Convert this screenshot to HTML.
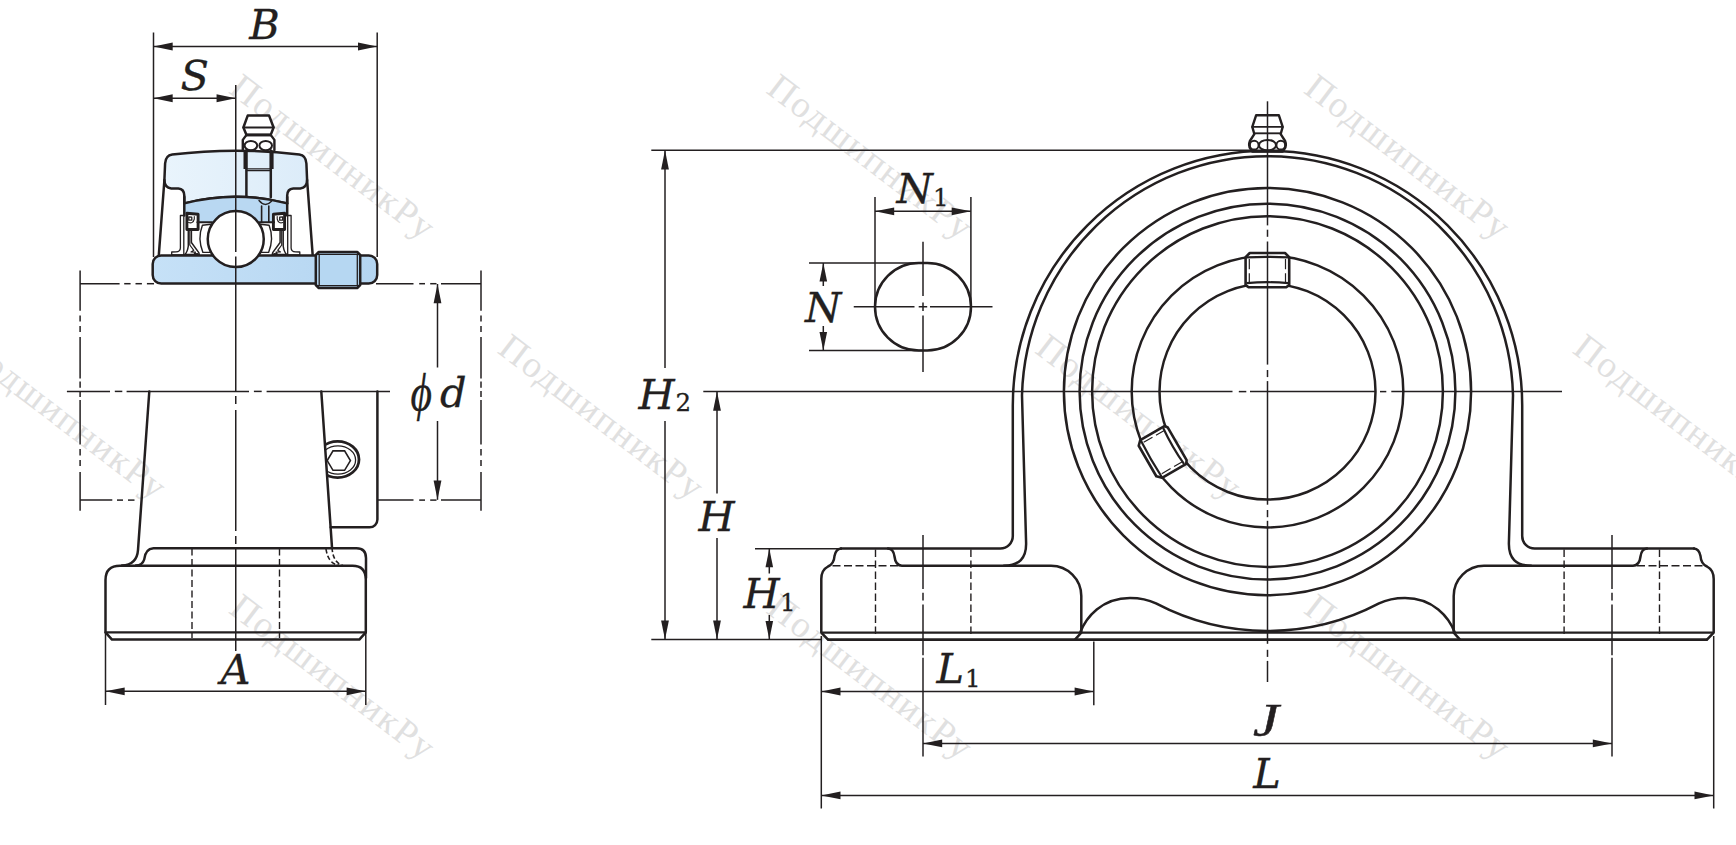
<!DOCTYPE html>
<html lang="ru"><head><meta charset="utf-8"><title>Pillow block bearing unit dimensions</title>
<style>html,body{margin:0;padding:0;background:#fff;overflow:hidden}svg{display:block}</style></head>
<body>
<svg width="1736" height="845" viewBox="0 0 1736 845">
<rect width="1736" height="845" fill="#fff"/>
<g id="wm">
<text transform="translate(227.5,92) rotate(37.3)" font-family='"Liberation Serif", serif' font-size="37" letter-spacing="1.8" fill="#e0e0e0">ПодшипникРу</text>
<text transform="translate(765,92) rotate(37.3)" font-family='"Liberation Serif", serif' font-size="37" letter-spacing="1.8" fill="#e0e0e0">ПодшипникРу</text>
<text transform="translate(1302.5,92) rotate(37.3)" font-family='"Liberation Serif", serif' font-size="37" letter-spacing="1.8" fill="#e0e0e0">ПодшипникРу</text>
<text transform="translate(-41.3,352) rotate(37.3)" font-family='"Liberation Serif", serif' font-size="37" letter-spacing="1.8" fill="#e0e0e0">ПодшипникРу</text>
<text transform="translate(496.2,352) rotate(37.3)" font-family='"Liberation Serif", serif' font-size="37" letter-spacing="1.8" fill="#e0e0e0">ПодшипникРу</text>
<text transform="translate(1033.7,352) rotate(37.3)" font-family='"Liberation Serif", serif' font-size="37" letter-spacing="1.8" fill="#e0e0e0">ПодшипникРу</text>
<text transform="translate(1571.2,352) rotate(37.3)" font-family='"Liberation Serif", serif' font-size="37" letter-spacing="1.8" fill="#e0e0e0">ПодшипникРу</text>
<text transform="translate(227.5,612) rotate(37.3)" font-family='"Liberation Serif", serif' font-size="37" letter-spacing="1.8" fill="#e0e0e0">ПодшипникРу</text>
<text transform="translate(765,612) rotate(37.3)" font-family='"Liberation Serif", serif' font-size="37" letter-spacing="1.8" fill="#e0e0e0">ПодшипникРу</text>
<text transform="translate(1302.5,612) rotate(37.3)" font-family='"Liberation Serif", serif' font-size="37" letter-spacing="1.8" fill="#e0e0e0">ПодшипникРу</text>
</g>
<g id="leftview">
<line x1="153.5" y1="32.5" x2="153.5" y2="257" stroke="#231f20" stroke-width="1.5"/>
<line x1="377.2" y1="32.5" x2="377.2" y2="257" stroke="#231f20" stroke-width="1.5"/>
<line x1="153.5" y1="46.5" x2="377.2" y2="46.5" stroke="#231f20" stroke-width="1.5"/>
<polygon points="153.50,46.50 172.70,42.60 172.70,50.40" fill="#231f20"/>
<polygon points="377.20,46.50 358.00,50.40 358.00,42.60" fill="#231f20"/>
<line x1="153.5" y1="98.25" x2="235.75" y2="98.25" stroke="#231f20" stroke-width="1.5"/>
<polygon points="153.50,98.25 172.70,94.35 172.70,102.15" fill="#231f20"/>
<polygon points="235.75,98.25 216.55,102.15 216.55,94.35" fill="#231f20"/>
<defs><linearGradient id="g1" x1="0" x2="1" y1="0" y2="0"><stop offset="0" stop-color="#e9f4fc"/><stop offset="1" stop-color="#dcecf9"/></linearGradient><linearGradient id="g2" x1="0" x2="1" y1="0" y2="0"><stop offset="0" stop-color="#c6e1f7"/><stop offset="1" stop-color="#b4d5f1"/></linearGradient></defs>
<path d="M172.2,154.6 A520,520 0 0 1 299.3,154.6 Q305.9,155.6 306.4,163.5 L307.1,180 Q306.9,187.8 300.3,188.4 L293.2,188.4 Q287.3,188.8 287.2,195.5 L287.2,203.4 A206,206 0 0 0 184.3,203.4 L184.3,195.5 Q184.2,188.8 178.3,188.4 L171.2,188.4 Q164.6,187.8 164.4,180 L165.1,163.5 Q165.6,155.6 172.2,154.6 Z" stroke="#231f20" stroke-width="2.5" fill="url(#g1)" stroke-linejoin="round" stroke-linecap="round" />
<path d="M164.4,180 L158.8,255.4" stroke="#231f20" stroke-width="2.5" fill="none" stroke-linejoin="round" stroke-linecap="round" />
<path d="M307.1,180 L312.7,255.4" stroke="#231f20" stroke-width="2.5" fill="none" stroke-linejoin="round" stroke-linecap="round" />
<path d="M184.3,203.4 A206,206 0 0 1 287.2,203.4 L287.2,214 L273.1,214 L273.1,222 L198.4,222 L198.4,214 L184.3,214 Z" fill="#b9d8f2" stroke="none"/>
<path d="M184.3,203.4 A206,206 0 0 1 287.2,203.4" stroke="#231f20" stroke-width="2.5" fill="none" stroke-linejoin="round" stroke-linecap="round" />
<path d="M184.3,197 L184.3,215.5 M287.2,197 L287.2,215.5" stroke="#231f20" stroke-width="2.5" fill="none" stroke-linejoin="round" stroke-linecap="round" />
<path d="M261.6,206 L261.6,222 M268.8,206 L268.8,222" stroke="#231f20" stroke-width="1.6" fill="none" stroke-linejoin="round" stroke-linecap="round" />
<path d="M259,200.5 Q265.2,208 271.5,201.2" stroke="#231f20" stroke-width="1.4" fill="none" stroke-linejoin="round" stroke-linecap="round" />
<path d="M183.8,215.5 L180.4,215.5 L180.4,248 Q180.2,251.7 176,251.9 L171.7,252 L171.7,255 L183.8,255 Z" stroke="#231f20" stroke-width="1.3" fill="#fff" stroke-linejoin="round" stroke-linecap="round" />
<path d="M287.7,215.5 L291.1,215.5 L291.1,248 Q291.3,251.7 295.5,251.9 L299.8,252 L299.8,255 L287.7,255 Z" stroke="#231f20" stroke-width="1.3" fill="#fff" stroke-linejoin="round" stroke-linecap="round" />
<path d="M188.3,229 L188.3,246 Q187.5,252 184.8,254.6 L199.3,254.6 L198.8,252.6 L191.4,242.5 L191.4,229 Z" stroke="#231f20" stroke-width="1.5" fill="#fff" stroke-linejoin="round" stroke-linecap="round" />
<path d="M189.8,231 L189.8,245 L193.8,250.3 L191,252 L195.5,252.2 L194.3,253.8 L197.5,253.6" stroke="#231f20" stroke-width="1.2" fill="none" stroke-linejoin="round" stroke-linecap="round" />
<path d="M186.9,213.2 L198.1,214.3 L198.1,229.5 L186.9,229.5 Z" stroke="#231f20" stroke-width="2.9" fill="#fff" stroke-linejoin="round" stroke-linecap="round" />
<path d="M188.8,217 L191.8,217.2 L191.8,220.2 L188.8,220.2 Z" stroke="#231f20" stroke-width="1.3" fill="none" stroke-linejoin="round" stroke-linecap="round" />
<path d="M188.6,222.5 Q193,224 194.3,219 L194.3,216.5" stroke="#231f20" stroke-width="1.1" fill="none" stroke-linejoin="round" stroke-linecap="round" />
<path d="M283.2,229 L283.2,246 Q284.0,252 286.7,254.6 L272.2,254.6 L272.7,252.6 L280.1,242.5 L280.1,229 Z" stroke="#231f20" stroke-width="1.5" fill="#fff" stroke-linejoin="round" stroke-linecap="round" />
<path d="M281.7,231 L281.7,245 L277.7,250.3 L280.5,252 L276.0,252.2 L277.2,253.8 L274.0,253.6" stroke="#231f20" stroke-width="1.2" fill="none" stroke-linejoin="round" stroke-linecap="round" />
<path d="M284.6,213.2 L273.4,214.3 L273.4,229.5 L284.6,229.5 Z" stroke="#231f20" stroke-width="2.9" fill="#fff" stroke-linejoin="round" stroke-linecap="round" />
<path d="M282.7,217 L279.7,217.2 L279.7,220.2 L282.7,220.2 Z" stroke="#231f20" stroke-width="1.3" fill="none" stroke-linejoin="round" stroke-linecap="round" />
<path d="M282.9,222.5 Q278.5,224 277.2,219 L277.2,216.5" stroke="#231f20" stroke-width="1.1" fill="none" stroke-linejoin="round" stroke-linecap="round" />
<path d="M202.4,225.3 L211,224.3 L211,252.4 L202.9,252.4 Q197.3,238.5 202.4,225.3 Z" stroke="#231f20" stroke-width="1.4" fill="#fff" stroke-linejoin="round" stroke-linecap="round" />
<path d="M269.1,225.3 L260.5,224.3 L260.5,252.4 L268.6,252.4 Q274.2,238.5 269.1,225.3 Z" stroke="#231f20" stroke-width="1.4" fill="#fff" stroke-linejoin="round" stroke-linecap="round" />
<path d="M197.4,222.3 L212,222.3 M274.1,222.3 L259.5,222.3" stroke="#231f20" stroke-width="2.0" fill="none" stroke-linejoin="round" stroke-linecap="round" />
<rect x="152.7" y="255.5" width="224.5" height="28.0" rx="8.5" ry="8.5" fill="url(#g2)" stroke="#231f20" stroke-width="2.5"/>
<circle cx="235.75" cy="239.1" r="28" fill="#fff" stroke="#231f20" stroke-width="2.5"/>
<path d="M318.8,252 L357.2,252 L360.2,255 L360.2,285 L357.2,288 L318.8,288 L315.8,285 L315.8,255 Z" stroke="#231f20" stroke-width="2.5" fill="#b6d7f2" stroke-linejoin="round" stroke-linecap="round" />
<path d="M319.2,254.5 L319.2,285.5 M357.3,254.5 L357.3,285.5" stroke="#231f20" stroke-width="1.3" fill="none" stroke-linejoin="round" stroke-linecap="round" />
<path d="M317,254.3 L359,254.3 M317,285.7 L359,285.7" stroke="#231f20" stroke-width="1.3" fill="none" stroke-linejoin="round" stroke-linecap="round" />
<path d="M247.7,115.6 L269.1,115.6 L273.6,127.5 L270.7,134.9 L246.5,134.9 L243.4,127.5 Z" stroke="#231f20" stroke-width="2.5" fill="#fff" stroke-linejoin="round" stroke-linecap="round" />
<path d="M243.4,127.5 L273.6,127.5" stroke="#231f20" stroke-width="1.8" fill="none" stroke-linejoin="round" stroke-linecap="round" />
<path d="M246.5,134.9 L270.7,134.9" stroke="#231f20" stroke-width="2.6" fill="none" stroke-linejoin="round" stroke-linecap="round" />
<path d="M246.5,134.9 L242.8,139.9 L242.8,150 M270.7,134.9 L274.4,139.9 L274.4,150" stroke="#231f20" stroke-width="2.4" fill="none" stroke-linejoin="round" stroke-linecap="round" />
<ellipse cx="250.9" cy="145.6" rx="6.3" ry="4.7" fill="none" stroke="#231f20" stroke-width="2"/>
<ellipse cx="265.7" cy="145.6" rx="6.3" ry="4.7" fill="none" stroke="#231f20" stroke-width="2"/>
<path d="M245.4,150.3 L245.4,169 M271.7,150.3 L271.7,169" stroke="#231f20" stroke-width="3.8" fill="none" stroke-linejoin="round" stroke-linecap="butt" />
<path d="M246.4,150.5 L246.4,196.6 M270.8,150.5 L270.8,197.3" stroke="#231f20" stroke-width="2.5" fill="none" stroke-linejoin="round" stroke-linecap="round" />
<path d="M246.4,168.9 L270.8,168.9 M246.4,170.7 L270.8,170.7" stroke="#231f20" stroke-width="1.2" fill="none" stroke-linejoin="round" stroke-linecap="round" />
<line x1="235.75" y1="85" x2="235.75" y2="252" stroke="#231f20" stroke-width="1.5"/>
<line x1="235.75" y1="256.5" x2="235.75" y2="391.5" stroke="#231f20" stroke-width="1.5"/>
<line x1="235.75" y1="396" x2="235.75" y2="404" stroke="#231f20" stroke-width="1.5"/>
<line x1="235.75" y1="410" x2="235.75" y2="531" stroke="#231f20" stroke-width="1.5"/>
<line x1="235.75" y1="536" x2="235.75" y2="544" stroke="#231f20" stroke-width="1.5"/>
<line x1="235.75" y1="548" x2="235.75" y2="651" stroke="#231f20" stroke-width="1.5"/>
<line x1="80" y1="283.7" x2="119.6" y2="283.7" stroke="#231f20" stroke-width="1.5"/>
<line x1="124.2" y1="283.7" x2="130.6" y2="283.7" stroke="#231f20" stroke-width="1.5"/>
<line x1="135.5" y1="283.7" x2="141.9" y2="283.7" stroke="#231f20" stroke-width="1.5"/>
<line x1="146.9" y1="283.7" x2="154" y2="283.7" stroke="#231f20" stroke-width="1.5"/>
<line x1="376" y1="283.7" x2="413.5" y2="283.7" stroke="#231f20" stroke-width="1.5"/>
<line x1="419.2" y1="283.7" x2="425" y2="283.7" stroke="#231f20" stroke-width="1.5"/>
<line x1="430.2" y1="283.7" x2="436.5" y2="283.7" stroke="#231f20" stroke-width="1.5"/>
<line x1="441" y1="283.7" x2="481" y2="283.7" stroke="#231f20" stroke-width="1.5"/>
<line x1="80" y1="500.1" x2="112.3" y2="500.1" stroke="#231f20" stroke-width="1.5"/>
<line x1="117" y1="500.1" x2="123" y2="500.1" stroke="#231f20" stroke-width="1.5"/>
<line x1="128" y1="500.1" x2="134.5" y2="500.1" stroke="#231f20" stroke-width="1.5"/>
<line x1="377.5" y1="500.1" x2="413.5" y2="500.1" stroke="#231f20" stroke-width="1.5"/>
<line x1="419.2" y1="500.1" x2="425" y2="500.1" stroke="#231f20" stroke-width="1.5"/>
<line x1="430.2" y1="500.1" x2="436.5" y2="500.1" stroke="#231f20" stroke-width="1.5"/>
<line x1="441" y1="500.1" x2="481" y2="500.1" stroke="#231f20" stroke-width="1.5"/>
<line x1="80.1" y1="270.4" x2="80.1" y2="310.8" stroke="#231f20" stroke-width="1.5"/>
<line x1="80.1" y1="315.4" x2="80.1" y2="321.5" stroke="#231f20" stroke-width="1.5"/>
<line x1="80.1" y1="326" x2="80.1" y2="332" stroke="#231f20" stroke-width="1.5"/>
<line x1="80.1" y1="337" x2="80.1" y2="378.5" stroke="#231f20" stroke-width="1.5"/>
<line x1="80.1" y1="381.5" x2="80.1" y2="387.7" stroke="#231f20" stroke-width="1.5"/>
<line x1="80.1" y1="391" x2="80.1" y2="397" stroke="#231f20" stroke-width="1.5"/>
<line x1="80.1" y1="400" x2="80.1" y2="444.6" stroke="#231f20" stroke-width="1.5"/>
<line x1="80.1" y1="449" x2="80.1" y2="455.4" stroke="#231f20" stroke-width="1.5"/>
<line x1="80.1" y1="460" x2="80.1" y2="466" stroke="#231f20" stroke-width="1.5"/>
<line x1="80.1" y1="472" x2="80.1" y2="510.8" stroke="#231f20" stroke-width="1.5"/>
<line x1="481" y1="270.4" x2="481" y2="310.8" stroke="#231f20" stroke-width="1.5"/>
<line x1="481" y1="315.4" x2="481" y2="321.5" stroke="#231f20" stroke-width="1.5"/>
<line x1="481" y1="326" x2="481" y2="332" stroke="#231f20" stroke-width="1.5"/>
<line x1="481" y1="337" x2="481" y2="378.5" stroke="#231f20" stroke-width="1.5"/>
<line x1="481" y1="381.5" x2="481" y2="387.7" stroke="#231f20" stroke-width="1.5"/>
<line x1="481" y1="391" x2="481" y2="397" stroke="#231f20" stroke-width="1.5"/>
<line x1="481" y1="400" x2="481" y2="444.6" stroke="#231f20" stroke-width="1.5"/>
<line x1="481" y1="449" x2="481" y2="455.4" stroke="#231f20" stroke-width="1.5"/>
<line x1="481" y1="460" x2="481" y2="466" stroke="#231f20" stroke-width="1.5"/>
<line x1="481" y1="472" x2="481" y2="510.8" stroke="#231f20" stroke-width="1.5"/>
<line x1="66.9" y1="391.4" x2="110" y2="391.4" stroke="#231f20" stroke-width="1.5"/>
<line x1="114.8" y1="391.4" x2="122.3" y2="391.4" stroke="#231f20" stroke-width="1.5"/>
<line x1="126.6" y1="391.4" x2="249" y2="391.4" stroke="#231f20" stroke-width="1.5"/>
<line x1="253.9" y1="391.4" x2="261.7" y2="391.4" stroke="#231f20" stroke-width="1.5"/>
<line x1="266.6" y1="391.4" x2="390" y2="391.4" stroke="#231f20" stroke-width="1.5"/>
<line x1="437.5" y1="284" x2="437.5" y2="367.5" stroke="#231f20" stroke-width="1.5"/>
<line x1="437.5" y1="421" x2="437.5" y2="499.8" stroke="#231f20" stroke-width="1.5"/>
<polygon points="437.50,284.00 441.40,303.20 433.60,303.20" fill="#231f20"/>
<polygon points="437.50,499.80 433.60,480.60 441.40,480.60" fill="#231f20"/>
<path d="M149.3,391.5 L138,550 Q137,564.6 122,565.6" stroke="#231f20" stroke-width="2.5" fill="none" stroke-linejoin="round" stroke-linecap="round" />
<path d="M321.3,391.5 L332,547.5" stroke="#231f20" stroke-width="2.5" fill="none" stroke-linejoin="round" stroke-linecap="round" />
<path d="M332,547.5 Q333,563 343,565.5 M326,549 Q328,563.5 339,565.5" stroke="#231f20" stroke-width="1.6" fill="none" stroke-linejoin="round" stroke-linecap="butt" stroke-dasharray="4.5 2.5"/>
<path d="M377.4,391.5 L377.4,519.5 A7.8,7.8 0 0 1 369.6,527.3 L330.7,527.3" stroke="#231f20" stroke-width="2.5" fill="none" stroke-linejoin="round" stroke-linecap="round" />
<clipPath id="cpL"><polygon points="321.5,391 400,391 400,540 331.6,540"/></clipPath>
<g clip-path="url(#cpL)"><ellipse cx="337.6" cy="459.45" rx="21.4" ry="18.15" fill="none" stroke="#231f20" stroke-width="2.8"/><ellipse cx="337.9" cy="460" rx="17.7" ry="14.1" fill="none" stroke="#231f20" stroke-width="1.3"/></g>
<polygon points="350.4,460.6 344.6,470.3 333.0,470.3 327.2,460.6 333.0,450.9 344.6,450.9" fill="none" stroke="#231f20" stroke-width="1.6"/>
<path d="M136,565.6 Q142.5,565.2 144.2,559.5 Q145.2,548.8 153.5,548.2 L356.5,548.2 Q366,548.2 366,558 L366,578" stroke="#231f20" stroke-width="2.5" fill="none" stroke-linejoin="round" stroke-linecap="round" />
<path d="M105.5,632.4 L105.5,580 Q105.5,565.7 120,565.7 L352.5,565.7 Q365.8,565.7 365.8,579.5 L365.8,632.4 L359.3,639.6 L112,639.6 Z" stroke="#231f20" stroke-width="2.5" fill="none" stroke-linejoin="round" stroke-linecap="round" />
<path d="M105.5,632.4 L365.8,632.4" stroke="#231f20" stroke-width="2.3" fill="none" stroke-linejoin="round" stroke-linecap="round" />
<line x1="192" y1="548.5" x2="192" y2="638" stroke="#231f20" stroke-width="1.4" stroke-dasharray="7 3.5"/>
<line x1="279.5" y1="548.5" x2="279.5" y2="638" stroke="#231f20" stroke-width="1.4" stroke-dasharray="7 3.5"/>
<line x1="105.5" y1="633" x2="105.5" y2="705" stroke="#231f20" stroke-width="1.5"/>
<line x1="365.8" y1="633" x2="365.8" y2="705" stroke="#231f20" stroke-width="1.5"/>
<line x1="105.5" y1="691.3" x2="365.8" y2="691.3" stroke="#231f20" stroke-width="1.5"/>
<polygon points="105.50,691.30 124.70,687.40 124.70,695.20" fill="#231f20"/>
<polygon points="365.80,691.30 346.60,695.20 346.60,687.40" fill="#231f20"/>
</g>
<g id="rightview">
<line x1="651.3" y1="150.3" x2="1252" y2="150.3" stroke="#231f20" stroke-width="1.5"/>
<line x1="651.3" y1="639.6" x2="822" y2="639.6" stroke="#231f20" stroke-width="1.5"/>
<line x1="703.3" y1="391.6" x2="1012" y2="391.6" stroke="#231f20" stroke-width="1.5"/>
<line x1="665" y1="150.3" x2="665" y2="368" stroke="#231f20" stroke-width="1.5"/>
<line x1="665" y1="421" x2="665" y2="639.6" stroke="#231f20" stroke-width="1.5"/>
<polygon points="665.00,150.30 668.90,169.50 661.10,169.50" fill="#231f20"/>
<polygon points="665.00,639.60 661.10,620.40 668.90,620.40" fill="#231f20"/>
<line x1="717" y1="391.6" x2="717" y2="493.5" stroke="#231f20" stroke-width="1.5"/>
<line x1="717" y1="538" x2="717" y2="639.6" stroke="#231f20" stroke-width="1.5"/>
<polygon points="717.00,391.60 720.90,410.80 713.10,410.80" fill="#231f20"/>
<polygon points="717.00,639.60 713.10,620.40 720.90,620.40" fill="#231f20"/>
<line x1="755" y1="548.7" x2="842" y2="548.7" stroke="#231f20" stroke-width="1.5"/>
<line x1="769.3" y1="548.7" x2="769.3" y2="573.5" stroke="#231f20" stroke-width="1.5"/>
<line x1="769.3" y1="615" x2="769.3" y2="639.6" stroke="#231f20" stroke-width="1.5"/>
<polygon points="769.30,548.70 773.10,567.20 765.50,567.20" fill="#231f20"/>
<polygon points="769.30,639.60 765.50,621.10 773.10,621.10" fill="#231f20"/>
<path d="M918.75,263 L927.25,263 A43.75,43.75 0 0 1 927.25,350.5 L918.75,350.5 A43.75,43.75 0 0 1 918.75,263 Z" stroke="#231f20" stroke-width="2.5" fill="none" stroke-linejoin="round" stroke-linecap="round" />
<line x1="875" y1="197" x2="875" y2="306.75" stroke="#231f20" stroke-width="1.5"/>
<line x1="970.9" y1="197" x2="970.9" y2="306.75" stroke="#231f20" stroke-width="1.5"/>
<line x1="875" y1="211.3" x2="970.9" y2="211.3" stroke="#231f20" stroke-width="1.5"/>
<polygon points="875.00,211.30 894.20,207.40 894.20,215.20" fill="#231f20"/>
<polygon points="970.90,211.30 951.70,215.20 951.70,207.40" fill="#231f20"/>
<line x1="809" y1="263" x2="923" y2="263" stroke="#231f20" stroke-width="1.5"/>
<line x1="809" y1="350.5" x2="923" y2="350.5" stroke="#231f20" stroke-width="1.5"/>
<line x1="823.3" y1="263" x2="823.3" y2="286" stroke="#231f20" stroke-width="1.5"/>
<line x1="823.3" y1="326" x2="823.3" y2="350.5" stroke="#231f20" stroke-width="1.5"/>
<polygon points="823.30,263.00 827.10,281.50 819.50,281.50" fill="#231f20"/>
<polygon points="823.30,350.50 819.50,332.00 827.10,332.00" fill="#231f20"/>
<line x1="853.75" y1="306.75" x2="914.5" y2="306.75" stroke="#231f20" stroke-width="1.5"/>
<line x1="918.7" y1="306.75" x2="927.2" y2="306.75" stroke="#231f20" stroke-width="1.5"/>
<line x1="930" y1="306.75" x2="992.5" y2="306.75" stroke="#231f20" stroke-width="1.5"/>
<line x1="923" y1="241.75" x2="923" y2="296" stroke="#231f20" stroke-width="1.5"/>
<line x1="923" y1="302.5" x2="923" y2="311" stroke="#231f20" stroke-width="1.5"/>
<line x1="923" y1="315.5" x2="923" y2="372" stroke="#231f20" stroke-width="1.5"/>
<path d="M841,548.6 L1000.3,548.6 A12.5,12.5 0 0 0 1012.8,536 L1012.8,405.45 A254.7,254.7 0 0 1 1522.2,405.45 L1522.2,536 A12.5,12.5 0 0 0 1534.7,548.6 L1694.0,548.6" stroke="#231f20" stroke-width="2.5" fill="none" stroke-linejoin="round" stroke-linecap="round" />
<path d="M1004,565.7 Q1026.6,565.7 1026.1,543 L1021.99,395.16 A245.6,245.6 0 0 1 1513.01,395.16 L1508.9,543 Q1508.4,565.7 1531.0,565.7" stroke="#231f20" stroke-width="2.5" fill="none" stroke-linejoin="round" stroke-linecap="round" />
<circle cx="1267.5" cy="391.6" r="203.6" fill="none" stroke="#231f20" stroke-width="2.5"/>
<circle cx="1267.5" cy="391.6" r="187.9" fill="none" stroke="#231f20" stroke-width="2.5"/>
<circle cx="1267.5" cy="391.6" r="175.4" fill="none" stroke="#231f20" stroke-width="2.5"/>
<circle cx="1267.5" cy="391.6" r="135.8" fill="none" stroke="#231f20" stroke-width="2.5"/>
<circle cx="1267.5" cy="391.6" r="108" fill="none" stroke="#231f20" stroke-width="2.5"/>
<g transform="rotate(0 1267.5 391.6)">
<path d="M1249.8,253.00000000000003 L1285.0,253.00000000000003 L1289.2,257.20000000000005 L1289.2,285.1 L1286.2,287.3 L1248.6,287.3 L1245.6,285.1 L1245.6,257.20000000000005 Z" fill="#fff" stroke="#231f20" stroke-width="2.6" stroke-linejoin="round"/>
<path d="M1246.1,257.40000000000003 Q1267.5,256.20000000000005 1288.7,257.40000000000003" stroke="#231f20" stroke-width="2.2" fill="none"/>
<path d="M1246.6,283.1 Q1267.5,281.3 1288.2,283.1" stroke="#231f20" stroke-width="2.2" fill="none"/>
<path d="M1249.3,259.0 L1249.3,269.20000000000005 M1249.3,273.20000000000005 L1249.3,282.3 M1285.5,259.0 L1285.5,269.20000000000005 M1285.5,273.20000000000005 L1285.5,282.3" stroke="#231f20" stroke-width="1.2" fill="none"/>
</g>
<g transform="rotate(-120 1267.5 391.6)">
<path d="M1249.8,253.00000000000003 L1285.0,253.00000000000003 L1289.2,257.20000000000005 L1289.2,285.1 L1286.2,287.3 L1248.6,287.3 L1245.6,285.1 L1245.6,257.20000000000005 Z" fill="#fff" stroke="#231f20" stroke-width="2.6" stroke-linejoin="round"/>
<path d="M1246.1,257.40000000000003 Q1267.5,256.20000000000005 1288.7,257.40000000000003" stroke="#231f20" stroke-width="2.2" fill="none"/>
<path d="M1246.6,283.1 Q1267.5,281.3 1288.2,283.1" stroke="#231f20" stroke-width="2.2" fill="none"/>
<path d="M1249.3,259.0 L1249.3,269.20000000000005 M1249.3,273.20000000000005 L1249.3,282.3 M1285.5,259.0 L1285.5,269.20000000000005 M1285.5,273.20000000000005 L1285.5,282.3" stroke="#231f20" stroke-width="1.2" fill="none"/>
</g>
<path d="M1080,633 C1086,617 1102,598 1130,598 C1141,598 1148,599.5 1156.0,603.45 A239.4,239.4 0 0 0 1379.0,603.45 C1387.0,599.5 1394.0,598 1405.0,598 C1433.0,598 1449.0,617 1455.0,633" stroke="#231f20" stroke-width="2.5" fill="none" stroke-linejoin="round" stroke-linecap="round" />
<path d="M841,548.6 Q836,549 834.5,556 Q834,564 828,566.5 Q821.3,570 821.3,579 L821.3,632.6 L828,639.6" stroke="#231f20" stroke-width="2.5" fill="none" stroke-linejoin="round" stroke-linecap="round" />
<path d="M888,548.6 Q893.5,549 894.5,556.5 Q895.5,565.7 902,565.7 L1051,565.7 A30.3,30.3 0 0 1 1081.3,596 L1081.3,632.6 L1075,639.6" stroke="#231f20" stroke-width="2.5" fill="none" stroke-linejoin="round" stroke-linecap="round" />
<line x1="832.5" y1="565.7" x2="900" y2="565.7" stroke="#231f20" stroke-width="1.5" stroke-dasharray="8 3.5"/>
<line x1="875.5" y1="549.5" x2="875.5" y2="637" stroke="#231f20" stroke-width="1.4" stroke-dasharray="7.5 3.5"/>
<line x1="970.9" y1="549.5" x2="970.9" y2="637" stroke="#231f20" stroke-width="1.4" stroke-dasharray="7.5 3.5"/>
<line x1="923" y1="535" x2="923" y2="589" stroke="#231f20" stroke-width="1.5"/>
<line x1="923" y1="592.8" x2="923" y2="600.4" stroke="#231f20" stroke-width="1.5"/>
<line x1="923" y1="604.5" x2="923" y2="655.3" stroke="#231f20" stroke-width="1.5"/>
<line x1="923" y1="657.8" x2="923" y2="756.5" stroke="#231f20" stroke-width="1.5"/>
<path d="M1694.0,548.6 Q1699.0,549 1700.5,556 Q1701.0,564 1707.0,566.5 Q1713.7,570 1713.7,579 L1713.7,632.6 L1707.0,639.6" stroke="#231f20" stroke-width="2.5" fill="none" stroke-linejoin="round" stroke-linecap="round" />
<path d="M1647.0,548.6 Q1641.5,549 1640.5,556.5 Q1639.5,565.7 1633.0,565.7 L1484.0,565.7 A30.3,30.3 0 0 0 1453.7,596 L1453.7,632.6 L1460.0,639.6" stroke="#231f20" stroke-width="2.5" fill="none" stroke-linejoin="round" stroke-linecap="round" />
<line x1="1702.5" y1="565.7" x2="1635.0" y2="565.7" stroke="#231f20" stroke-width="1.5" stroke-dasharray="8 3.5"/>
<line x1="1659.5" y1="549.5" x2="1659.5" y2="637" stroke="#231f20" stroke-width="1.4" stroke-dasharray="7.5 3.5"/>
<line x1="1564.1" y1="549.5" x2="1564.1" y2="637" stroke="#231f20" stroke-width="1.4" stroke-dasharray="7.5 3.5"/>
<line x1="1612.0" y1="535" x2="1612.0" y2="589" stroke="#231f20" stroke-width="1.5"/>
<line x1="1612.0" y1="592.8" x2="1612.0" y2="600.4" stroke="#231f20" stroke-width="1.5"/>
<line x1="1612.0" y1="604.5" x2="1612.0" y2="655.3" stroke="#231f20" stroke-width="1.5"/>
<line x1="1612.0" y1="657.8" x2="1612.0" y2="756.5" stroke="#231f20" stroke-width="1.5"/>
<line x1="821.3" y1="632.6" x2="1713.7" y2="632.6" stroke="#231f20" stroke-width="2.4"/>
<line x1="827.5" y1="639.6" x2="1707.5" y2="639.6" stroke="#231f20" stroke-width="2.9"/>
<path d="M1256.1,115.3 L1278.9,115.3 L1282.7,126.9 L1280.7,134 L1254.3,134 L1252.3,126.9 Z" stroke="#231f20" stroke-width="2.4" fill="#fff" stroke-linejoin="round" stroke-linecap="round" />
<path d="M1252.3,126.9 L1282.7,126.9" stroke="#231f20" stroke-width="1.7" fill="none" stroke-linejoin="round" stroke-linecap="round" />
<path d="M1254.3,134 L1280.7,134" stroke="#231f20" stroke-width="2.8" fill="none" stroke-linejoin="round" stroke-linecap="round" />
<path d="M1254.3,134.2 L1249.9,141 Q1247.9,146.5 1251.2,150 L1253.0,151.3 L1282.0,151.3 L1283.8,150 Q1287.1,146.5 1285.1,141 L1280.7,134.2" stroke="#231f20" stroke-width="2.4" fill="#fff" stroke-linejoin="round" stroke-linecap="round" />
<path d="M1252.5,151.2 L1282.5,151.2" stroke="#231f20" stroke-width="3.2" fill="none" stroke-linejoin="round" stroke-linecap="round" />
<ellipse cx="1267.5" cy="145.2" rx="8.5" ry="5.3" fill="none" stroke="#231f20" stroke-width="2"/>
<circle cx="1254.2" cy="145.2" r="4.4" fill="none" stroke="#231f20" stroke-width="2"/>
<circle cx="1280.8" cy="145.2" r="4.4" fill="none" stroke="#231f20" stroke-width="2"/>
<line x1="1267.5" y1="101.3" x2="1267.5" y2="225.4" stroke="#231f20" stroke-width="1.5"/>
<line x1="1267.5" y1="229.7" x2="1267.5" y2="236.8" stroke="#231f20" stroke-width="1.5"/>
<line x1="1267.5" y1="241.5" x2="1267.5" y2="364.6" stroke="#231f20" stroke-width="1.5"/>
<line x1="1267.5" y1="370" x2="1267.5" y2="377.1" stroke="#231f20" stroke-width="1.5"/>
<line x1="1267.5" y1="381.1" x2="1267.5" y2="504.7" stroke="#231f20" stroke-width="1.5"/>
<line x1="1267.5" y1="510" x2="1267.5" y2="517.2" stroke="#231f20" stroke-width="1.5"/>
<line x1="1267.5" y1="520.8" x2="1267.5" y2="643.8" stroke="#231f20" stroke-width="1.5"/>
<line x1="1267.5" y1="649.8" x2="1267.5" y2="656.9" stroke="#231f20" stroke-width="1.5"/>
<line x1="1267.5" y1="660.9" x2="1267.5" y2="682" stroke="#231f20" stroke-width="1.5"/>
<line x1="1012" y1="391.6" x2="1232.5" y2="391.6" stroke="#231f20" stroke-width="1.5"/>
<line x1="1238.8" y1="391.6" x2="1246.3" y2="391.6" stroke="#231f20" stroke-width="1.5"/>
<line x1="1250" y1="391.6" x2="1375" y2="391.6" stroke="#231f20" stroke-width="1.5"/>
<line x1="1380" y1="391.6" x2="1386.3" y2="391.6" stroke="#231f20" stroke-width="1.5"/>
<line x1="1391.3" y1="391.6" x2="1562" y2="391.6" stroke="#231f20" stroke-width="1.5"/>
<line x1="821.3" y1="636" x2="821.3" y2="808.5" stroke="#231f20" stroke-width="1.5"/>
<line x1="1713.7" y1="636" x2="1713.7" y2="808.5" stroke="#231f20" stroke-width="1.5"/>
<line x1="1093.8" y1="641.5" x2="1093.8" y2="705.3" stroke="#231f20" stroke-width="1.5"/>
<line x1="821.3" y1="691.5" x2="1093.8" y2="691.5" stroke="#231f20" stroke-width="1.5"/>
<polygon points="821.30,691.50 840.50,687.60 840.50,695.40" fill="#231f20"/>
<polygon points="1093.80,691.50 1074.60,695.40 1074.60,687.60" fill="#231f20"/>
<line x1="923" y1="743.4" x2="1612.0" y2="743.4" stroke="#231f20" stroke-width="1.5"/>
<polygon points="923.00,743.40 942.20,739.50 942.20,747.30" fill="#231f20"/>
<polygon points="1612.00,743.40 1592.80,747.30 1592.80,739.50" fill="#231f20"/>
<line x1="821.3" y1="795.4" x2="1713.7" y2="795.4" stroke="#231f20" stroke-width="1.5"/>
<polygon points="821.30,795.40 840.50,791.50 840.50,799.30" fill="#231f20"/>
<polygon points="1713.70,795.40 1694.50,799.30 1694.50,791.50" fill="#231f20"/>
</g>
<g id="labels">
<text x="249.3" y="38.6" font-family='"DejaVu Serif", "Liberation Serif", serif' font-size="41.5" font-style="italic" fill="#231f20" stroke="#231f20" stroke-width="0.3" >B</text>
<text x="180.5" y="90.4" font-family='"DejaVu Serif", "Liberation Serif", serif' font-size="41.5" font-style="italic" fill="#231f20" stroke="#231f20" stroke-width="0.3" >S</text>
<text x="220.4" y="684.2" font-family='"DejaVu Serif", "Liberation Serif", serif' font-size="41.5" font-style="italic" fill="#231f20" stroke="#231f20" stroke-width="0.3" >A</text>
<text transform="translate(410.5,410.2) scale(0.8,1)" font-family='"Liberation Serif", serif' font-style="italic" font-size="51.8" fill="#231f20" stroke="#231f20" stroke-width="0.3">ϕ</text>
<text x="440" y="407" font-family='"DejaVu Serif", "Liberation Serif", serif' font-size="41.5" font-style="italic" fill="#231f20" stroke="#231f20" stroke-width="0.3" >d</text>
<text x="896.5" y="203.2" font-family='"DejaVu Serif", "Liberation Serif", serif' font-size="41.5" font-style="italic" fill="#231f20" stroke="#231f20" stroke-width="0.3" >N</text>
<text x="933" y="206" font-family='"DejaVu Serif", "Liberation Serif", serif' font-size="24.5" fill="#231f20" stroke="#231f20" stroke-width="0.3" >1</text>
<text x="805" y="321.5" font-family='"DejaVu Serif", "Liberation Serif", serif' font-size="41.5" font-style="italic" fill="#231f20" stroke="#231f20" stroke-width="0.3" >N</text>
<text x="638.5" y="409.2" font-family='"DejaVu Serif", "Liberation Serif", serif' font-size="41.5" font-style="italic" fill="#231f20" stroke="#231f20" stroke-width="0.3" >H</text>
<text x="675.5" y="411" font-family='"DejaVu Serif", "Liberation Serif", serif' font-size="24.5" fill="#231f20" stroke="#231f20" stroke-width="0.3" >2</text>
<text x="698.5" y="530.7" font-family='"DejaVu Serif", "Liberation Serif", serif' font-size="41.5" font-style="italic" fill="#231f20" stroke="#231f20" stroke-width="0.3" >H</text>
<text x="743.5" y="608" font-family='"DejaVu Serif", "Liberation Serif", serif' font-size="41.5" font-style="italic" fill="#231f20" stroke="#231f20" stroke-width="0.3" >H</text>
<text x="780" y="610.5" font-family='"DejaVu Serif", "Liberation Serif", serif' font-size="24.5" fill="#231f20" stroke="#231f20" stroke-width="0.3" >1</text>
<text x="936.5" y="683.3" font-family='"DejaVu Serif", "Liberation Serif", serif' font-size="41.5" font-style="italic" fill="#231f20" stroke="#231f20" stroke-width="0.3" >L</text>
<text x="965" y="686.5" font-family='"DejaVu Serif", "Liberation Serif", serif' font-size="24.5" fill="#231f20" stroke="#231f20" stroke-width="0.3" >1</text>
<text transform="translate(1253,736) scale(1.24,1)" font-family='"Liberation Serif", serif' font-style="italic" font-size="47" fill="#231f20" stroke="#231f20" stroke-width="0.5">J</text>
<text x="1253.2" y="787.6" font-family='"DejaVu Serif", "Liberation Serif", serif' font-size="41.5" font-style="italic" fill="#231f20" stroke="#231f20" stroke-width="0.3" >L</text>
</g>
</svg>
</body></html>
